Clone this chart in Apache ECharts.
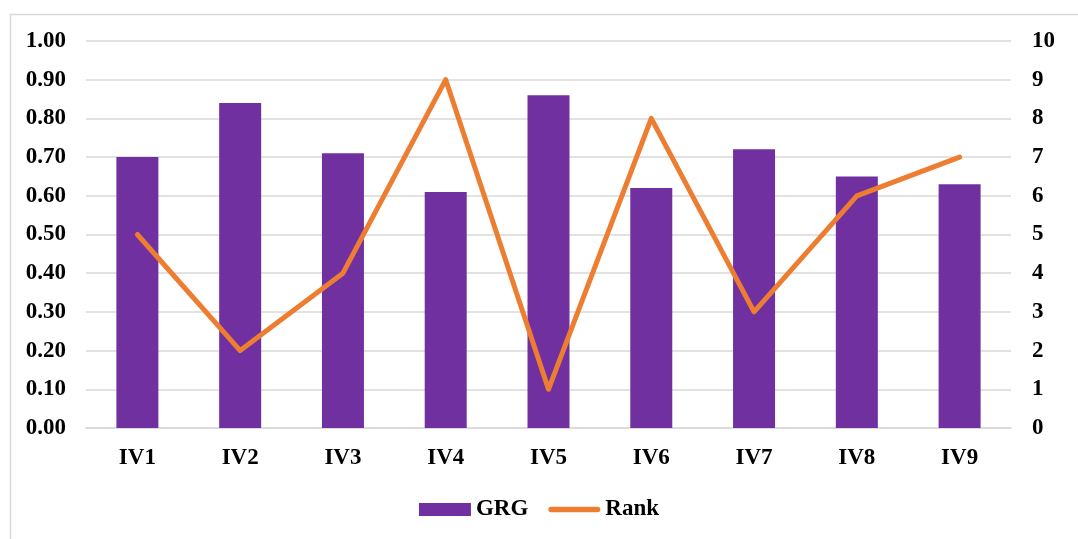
<!DOCTYPE html>
<html>
<head>
<meta charset="utf-8">
<script src="https://cdn.jsdelivr.net/npm/echarts@6/dist/echarts.min.js"></script>
<style>
  html, body { margin: 0; padding: 0; background: #fff; }
  #chart { width: 1078px; height: 539px; }
</style>
</head>
<body>
<div id="chart"></div>
<script>
// data
const categories = ['IV1', 'IV2', 'IV3', 'IV4', 'IV5', 'IV6', 'IV7', 'IV8', 'IV9']
const grgValues = [0.70, 0.84, 0.71, 0.61, 0.86, 0.62, 0.72, 0.65, 0.63]
const rankValues = [5, 2, 4, 9, 1, 8, 3, 6, 7]

const font = '"Liberation Serif", "Times New Roman", serif'
const labelStyle = {
  color: '#000',
  fontFamily: font,
  fontWeight: 'bold',
  fontSize: 23
}

// thick round-capped stroke for the line legend item (same box as itemWidth x itemHeight)
const lineIcon = 'path://M0,0 M52,13 M2.75,3.75 L49.25,3.75 A2.75,2.75,0,0,1,49.25,9.25 L2.75,9.25 A2.75,2.75,0,0,1,2.75,3.75 Z'

const chart = echarts.init(document.getElementById('chart'))
chart.setOption({
  animation: false,
  backgroundColor: '#fff',
  graphic: [
    {
      type: 'rect',
      left: 8,
      top: 12,
      shape: { width: 1090, height: 540 },
      style: { fill: 'none', stroke: '#d9d9d9', lineWidth: 1.5 },
      silent: true
    }
  ],
  grid: {
    left: 86,
    right: 67,
    top: 41,
    bottom: 111
  },
  legend: {
    top: 493,
    left: 'center',
    itemWidth: 52,
    itemHeight: 13,
    itemGap: 20,
    textStyle: labelStyle,
    data: [
      { name: 'GRG', icon: 'rect' },
      { name: 'Rank', icon: lineIcon }
    ]
  },
  xAxis: {
    type: 'category',
    data: categories,
    axisLine: { lineStyle: { color: '#d9d9d9', width: 1.5 } },
    axisTick: { show: false },
    axisLabel: Object.assign({ margin: 19, interval: 0 }, labelStyle)
  },
  yAxis: [
    {
      type: 'value',
      min: 0,
      max: 1,
      interval: 0.1,
      axisLine: { show: false },
      axisTick: { show: false },
      splitLine: { lineStyle: { color: '#d9d9d9', width: 1.5 } },
      axisLabel: Object.assign({
        margin: 20,
        formatter: function (v) { return v.toFixed(2) }
      }, labelStyle)
    },
    {
      type: 'value',
      min: 0,
      max: 10,
      interval: 1,
      position: 'right',
      axisLine: { show: false },
      axisTick: { show: false },
      splitLine: { show: false },
      axisLabel: Object.assign({ margin: 21, align: 'left' }, labelStyle)
    }
  ],
  series: [
    {
      name: 'GRG',
      type: 'bar',
      data: grgValues,
      barWidth: 42,
      itemStyle: { color: '#7030A0' }
    },
    {
      name: 'Rank',
      type: 'line',
      yAxisIndex: 1,
      data: rankValues,
      symbol: 'none',
      lineStyle: { color: '#ED7D31', width: 5, cap: 'round', join: 'round' },
      itemStyle: { color: '#ED7D31' }
    }
  ]
})
</script>
</body>
</html>
